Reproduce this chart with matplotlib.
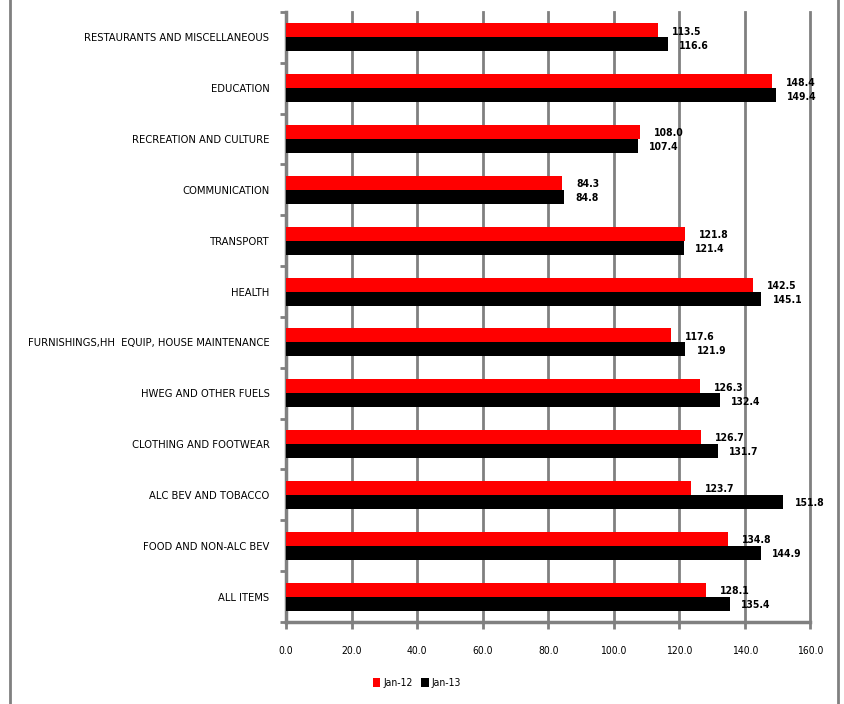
import numpy as np
import matplotlib
matplotlib.use("Agg")
import matplotlib.pyplot as plt
from matplotlib.lines import Line2D

plt.rcParams['font.family'] = ['DejaVu Sans']
plt.rcParams['font.stretch'] = 'condensed'

# categories bottom to top
categories = ['ALL ITEMS', 'FOOD AND NON-ALC BEV', 'ALC BEV AND TOBACCO',
              'CLOTHING AND FOOTWEAR', 'HWEG AND OTHER FUELS',
              'FURNISHINGS,HH  EQUIP, HOUSE MAINTENANCE', 'HEALTH', 'TRANSPORT',
              'COMMUNICATION', 'RECREATION AND CULTURE', 'EDUCATION',
              'RESTAURANTS AND MISCELLANEOUS']
jan12 = [128.1, 134.8, 123.7, 126.7, 126.3, 117.6, 142.5, 121.8, 84.3, 108.0, 148.4, 113.5]
jan13 = [135.4, 144.9, 151.8, 131.7, 132.4, 121.9, 145.1, 121.4, 84.8, 107.4, 149.4, 116.6]
x_ticks = [0, 20, 40, 60, 80, 100, 120, 140, 160]

fig = plt.figure(figsize=(8.44, 7.04), dpi=100)
ax = fig.add_axes([0.339, 0.1165, 0.621, 0.8665])

y = np.arange(len(categories))
h = 0.275
ax.barh(y + h / 2, jan12, height=h, color='#ff0000', label='Jan-12', zorder=3)
ax.barh(y - h / 2, jan13, height=h, color='#000000', label='Jan-13', zorder=3)

# data labels
for yi, v in zip(y, jan12):
    ax.annotate(f'{v:.1f}', (v, yi + h / 2), xytext=(10, -1), textcoords='offset points',
                va='center', ha='left', fontsize=7.5, fontweight='bold')
for yi, v in zip(y, jan13):
    ax.annotate(f'{v:.1f}', (v, yi - h / 2), xytext=(8, -1), textcoords='offset points',
                va='center', ha='left', fontsize=7.5, fontweight='bold')

ax.set_xlim(0, 160)
ax.set_ylim(-0.5, len(categories) - 0.5)
ax.set_xticks(x_ticks)
ax.set_xticklabels([f'{t:.1f}' for t in x_ticks], fontsize=7.5)
ax.set_yticks(y)
ax.set_yticklabels(categories, fontsize=8)
ax.set_yticks(np.arange(len(categories) + 1) - 0.5, minor=True)
ax.tick_params(axis='y', which='major', length=0, pad=12)
ax.tick_params(axis='y', which='minor', length=4, width=2, color='#808080', direction='out')
ax.tick_params(axis='x', length=5, width=2, color='#808080', pad=12)

ax.grid(axis='x', color='#808080', linewidth=2, zorder=0)
for line in ax.get_xgridlines():
    line.set_clip_on(False)
for s in ['top', 'right']:
    ax.spines[s].set_visible(False)
for s in ['left', 'bottom']:
    ax.spines[s].set_color('#808080')
    ax.spines[s].set_linewidth(2.5)

ax.legend(loc='upper center', bbox_to_anchor=(0.25, -0.077), ncol=2, frameon=False,
          fontsize=7.5, handlelength=0.7, handleheight=0.9, handletextpad=0.3,
          columnspacing=0.8)

# outer chart border (left and right)
fig.add_artist(Line2D([10 / 844, 10 / 844], [0, 1], color='#808080', linewidth=2,
                      transform=fig.transFigure))
fig.add_artist(Line2D([838 / 844, 838 / 844], [0, 1], color='#808080', linewidth=2,
                      transform=fig.transFigure))

fig.savefig('out.png', dpi=100)
